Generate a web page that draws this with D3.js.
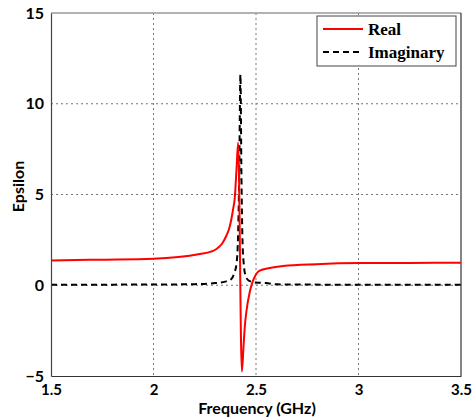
<!DOCTYPE html>
<html>
<head>
<meta charset="utf-8">
<script src="https://cdn.jsdelivr.net/npm/d3@7"></script>
<style>
  body { margin: 0; background: #fff; }
</style>
</head>
<body>
<div id="chart"></div>
<script>
// values (GHz, epsilon)
const realFreq = [1.5, 1.75, 2.0, 2.226, 2.28, 2.307, 2.335, 2.356, 2.37, 2.38, 2.39, 2.396, 2.405, 2.413,
  2.431, 2.44, 2.446, 2.453, 2.469, 2.478, 2.489, 2.518, 2.567, 2.632, 2.794, 3.005, 3.25, 3.5]
const realVals = [1.37, 1.41, 1.46, 1.72, 1.85, 2.0, 2.3, 2.74, 3.15, 3.65, 4.3, 4.75, 6.4, 7.85,
  -4.75, -3.2, -2.2, -1.46, -0.4, 0, 0.35, 0.8, 0.95, 1.06, 1.16, 1.22, 1.23, 1.24]
const imagFreq = [1.5, 2.0, 2.2, 2.3, 2.35, 2.38, 2.395, 2.405, 2.412, 2.418, 2.424, 2.429, 2.434, 2.44,
  2.45, 2.465, 2.5, 2.55, 2.6, 3.0, 3.5]
const imagVals = [0.03, 0.04, 0.06, 0.12, 0.2, 0.35, 0.7, 1.2, 2.5, 6, 11.6, 6, 2.5, 1.2,
  0.5, 0.25, 0.15, 0.12, 0.05, 0.03, 0.03]
const xTicks = [1.5, 2, 2.5, 3, 3.5]
const yTicks = [-5, 0, 5, 10, 15]
const seriesNames = ['Real', 'Imaginary']

const SANS = 'Lato, "Open Sans", sans-serif'
const dimensions = {
  width: 474,
  height: 418,
  margin: { top: 13, right: 13, bottom: 42, left: 51 }
}
const innerW = dimensions.width - dimensions.margin.left - dimensions.margin.right
const innerH = dimensions.height - dimensions.margin.top - dimensions.margin.bottom

const svg = d3.select('#chart').append('svg')
  .attr('width', dimensions.width)
  .attr('height', dimensions.height)

const bounds = svg.append('g')
  .attr('transform', `translate(${dimensions.margin.left}, ${dimensions.margin.top})`)

const xScale = d3.scaleLinear().domain([1.5, 3.5]).range([0, innerW])
const yScale = d3.scaleLinear().domain([-5, 15]).range([innerH, 0])

// grid
bounds.append('g')
  .selectAll('line')
  .data(xTicks.slice(1, -1))
  .join('line')
  .attr('x1', d => xScale(d)).attr('x2', d => xScale(d))
  .attr('y1', 0).attr('y2', innerH)
  .attr('stroke', '#777').attr('stroke-dasharray', '2,3')
bounds.append('g')
  .selectAll('line')
  .data(yTicks.slice(1, -1))
  .join('line')
  .attr('y1', d => yScale(d)).attr('y2', d => yScale(d))
  .attr('x1', 0).attr('x2', innerW)
  .attr('stroke', '#777').attr('stroke-dasharray', '2,3')

// box
bounds.append('line').attr('x1', 0).attr('x2', innerW).attr('y1', 0).attr('y2', 0)
  .attr('stroke', '#999').attr('stroke-width', 1.5)
bounds.append('line').attr('x1', innerW).attr('x2', innerW).attr('y1', 0).attr('y2', innerH)
  .attr('stroke', '#333').attr('stroke-width', 1.2)

const line = d3.line()
  .x(d => xScale(d[0]))
  .y(d => yScale(d[1]))
  .curve(d3.curveMonotoneX)

bounds.append('path')
  .datum(imagFreq.map((f, i) => [f, imagVals[i]]))
  .attr('fill', 'none')
  .attr('stroke', '#000')
  .attr('stroke-width', 2)
  .attr('stroke-dasharray', '6,4')
  .attr('d', line)

bounds.append('path')
  .datum(realFreq.map((f, i) => [f, realVals[i]]))
  .attr('fill', 'none')
  .attr('stroke', '#f00')
  .attr('stroke-width', 2)
  .attr('d', line)

// axes
const xAxis = bounds.append('g')
  .attr('transform', `translate(0, ${innerH})`)
  .call(d3.axisBottom(xScale).tickValues(xTicks).tickSize(0).tickPadding(8).tickFormat(d3.format('')))
xAxis.select('.domain').attr('stroke', '#333').attr('stroke-width', 1.2)
xAxis.selectAll('text')
  .style('font-family', SANS).style('font-weight', 'bold').style('font-size', '15px')
  .attr('fill', '#000')

const yAxis = bounds.append('g')
  .call(d3.axisLeft(yScale).tickValues(yTicks).tickSize(0).tickPadding(7))
yAxis.select('.domain').attr('stroke', '#444').attr('stroke-width', 1.2)
yAxis.selectAll('text')
  .style('font-family', SANS).style('font-weight', 'bold').style('font-size', '16px')
  .attr('fill', '#000')

svg.append('text')
  .attr('x', dimensions.margin.left + innerW / 2 + 1)
  .attr('y', 414)
  .attr('text-anchor', 'middle')
  .style('font-family', SANS).style('font-weight', 'bold').style('font-size', '16px')
  .text('Frequency (GHz)')

svg.append('text')
  .attr('transform', `translate(24, ${dimensions.margin.top + innerH / 2 - 8}) rotate(-90)`)
  .attr('text-anchor', 'middle')
  .style('font-family', SANS).style('font-weight', 'bold').style('font-size', '16px')
  .text('Epsilon')

// legend
const legend = svg.append('g').attr('transform', 'translate(317, 16)')
legend.append('rect')
  .attr('width', 139).attr('height', 50)
  .attr('fill', '#fff').attr('stroke', '#444').attr('stroke-width', 1)
const legendRows = legend.selectAll('g.row')
  .data(seriesNames)
  .join('g')
  .attr('class', 'row')
  .attr('transform', (d, i) => `translate(0, ${13 + i * 23})`)
legendRows.append('line')
  .attr('x1', 6).attr('x2', 46)
  .attr('stroke', (d, i) => i === 0 ? '#f00' : '#000')
  .attr('stroke-width', 2)
  .attr('stroke-dasharray', (d, i) => i === 0 ? null : '6,4')
legendRows.append('text')
  .attr('x', 51).attr('y', 6)
  .style('font-family', '"Liberation Serif", "Times New Roman", serif')
  .style('font-weight', 'bold')
  .style('font-size', '17px')
  .text(d => d)
</script>
</body>
</html>
